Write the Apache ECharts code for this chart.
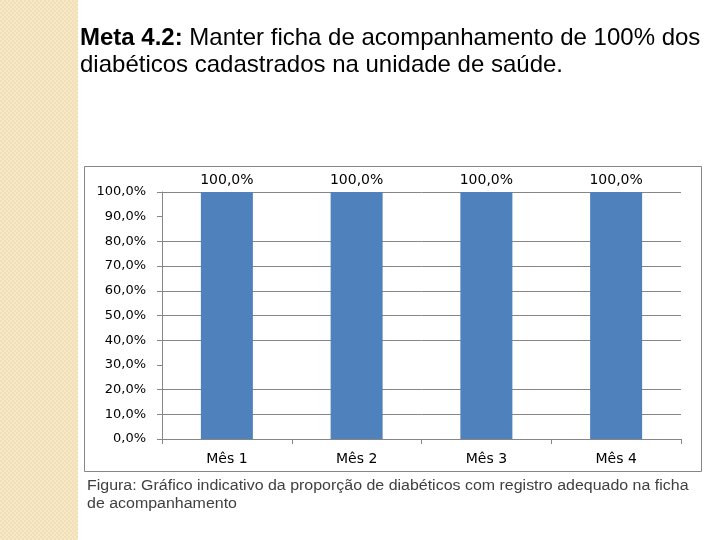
<!DOCTYPE html>
<html>
<head>
<meta charset="utf-8">
<script src="https://cdn.jsdelivr.net/npm/echarts@6/dist/echarts.min.js"></script>
<style>
html,body{margin:0;padding:0;background:#fff;}
#strip{position:absolute;left:0;top:0;width:78px;height:540px;
background-color:#f2dfb5;
background-image:conic-gradient(#f7e9c8 25%, transparent 0 50%, #f7e9c8 0 75%, transparent 0);
background-size:4px 4px;}
#main{position:absolute;left:0;top:0;width:720px;height:540px;}
</style>
</head>
<body>
<div id="strip"></div>
<div id="main"></div>
<script>
const categories = ['Mês 1', 'Mês 2', 'Mês 3', 'Mês 4'];
const values = [100, 100, 100, 100];
const titleBold = 'Meta 4.2:';
const titleLine1 = ' Manter ficha de acompanhamento de 100% dos';
const titleLine2 = 'diabéticos cadastrados na unidade de saúde.';
const captionLine1 = 'Figura: Gráfico indicativo da proporção de diabéticos com registro adequado na ficha';
const captionLine2 = 'de acompanhamento';

const fmt = v => Number(v).toFixed(1).replace('.', ',') + '%';
const chart = echarts.init(document.getElementById('main'), null, {renderer: 'canvas'});
const labelFont = '"DejaVu Sans", sans-serif';
const sans = '"Liberation Sans", Arial, sans-serif';
const gridColors = ['#868686','#868686','#868686','transparent','#868686','#868686','#868686','#868686','#868686','transparent','#868686'];
chart.setOption({
  backgroundColor: 'transparent',
  animation: false,
  grid: {left: 162, right: 39, top: 192, bottom: 101},
  graphic: [
    {type: 'rect', shape: {x: 84.5, y: 166.5, width: 617, height: 305}, style: {fill: 'none', stroke: '#868686', lineWidth: 1}, z: -1},
    {type: 'text', x: 80, y: 26, style: {x: 0, y: 0, verticalAlign: 'top', text: '{b|' + titleBold + '}' + titleLine1, font: '24px ' + sans, fill: '#000',
      rich: {b: {fontWeight: 'bold', fontSize: 24, fontFamily: sans}}}},
    {type: 'text', x: 80, y: 53, style: {x: 0, y: 0, verticalAlign: 'top', text: titleLine2, font: '24px ' + sans, fill: '#000'}},
    {type: 'text', x: 87, y: 479, scaleX: 1.14, style: {x: 0, y: 0, verticalAlign: 'top', text: captionLine1, font: '14px ' + sans, fill: '#404040'}},
    {type: 'text', x: 87, y: 497, scaleX: 1.14, style: {x: 0, y: 0, verticalAlign: 'top', text: captionLine2, font: '14px ' + sans, fill: '#404040'}}
  ],
  xAxis: {
    type: 'category', data: categories,
    axisLine: {lineStyle: {color: '#868686'}},
    axisTick: {show: true, alignWithLabel: false, length: 5, lineStyle: {color: '#868686'}},
    axisLabel: {color: '#000', fontSize: 14, fontFamily: labelFont, margin: 13}
  },
  yAxis: {
    type: 'value', min: 0, max: 100, interval: 10,
    axisLine: {show: true, lineStyle: {color: '#868686'}},
    axisTick: {show: true, length: 5, lineStyle: {color: '#868686'}},
    splitLine: {show: true, lineStyle: {color: gridColors, width: 1}},
    axisLabel: {color: '#000', fontSize: 13, fontFamily: labelFont, margin: 16, formatter: fmt}
  },
  series: [{
    type: 'bar', data: values, barWidth: 52,
    itemStyle: {color: '#4f81bd'},
    label: {show: true, position: 'top', distance: 5, color: '#000', fontSize: 14, fontFamily: labelFont, formatter: p => fmt(p.value)}
  }]
});
</script>
</body>
</html>
